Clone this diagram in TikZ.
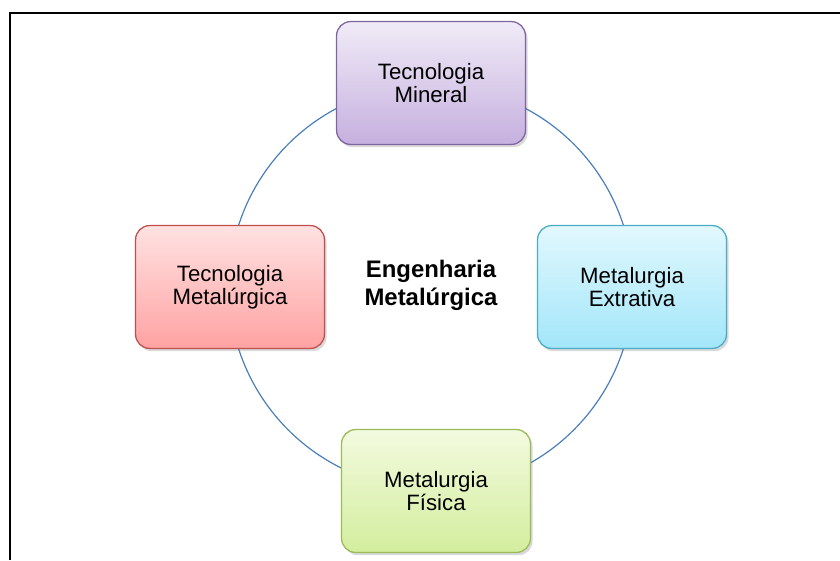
\documentclass[tikz,border=0pt]{standalone}
\usepackage{fontspec}
\setmainfont{Liberation Sans}
\usetikzlibrary{shadows}
\pgfdeclarelayer{bg}
\pgfsetlayers{bg,main}
\definecolor{ringblue}{HTML}{4A7EBB}
\definecolor{minline}{HTML}{8064A2}
\definecolor{mintop}{HTML}{F0EBF7}
\definecolor{minbot}{HTML}{C6B0DF}
\definecolor{extline}{HTML}{4BACC6}
\definecolor{exttop}{HTML}{E2F8FE}
\definecolor{extbot}{HTML}{A2E6F9}
\definecolor{fisline}{HTML}{9BBB59}
\definecolor{fistop}{HTML}{F3FADF}
\definecolor{fisbot}{HTML}{D3EE9E}
\definecolor{metline}{HTML}{C0504D}
\definecolor{mettop}{HTML}{FFE2E2}
\definecolor{metbot}{HTML}{FFA2A2}
\tikzset{
    area/.style={rectangle, rounded corners=10pt, line width=0.9pt,
        minimum width=4.72cm, minimum height=3.07cm, align=center,
        font=\fontsize{15.8}{16.5}\selectfont,
        drop shadow={opacity=0.3, shadow xshift=1.5pt, shadow yshift=-2pt}},
    title/.style={align=center, font=\fontsize{17}{20}\selectfont\bfseries}
}

\begin{document}
\begin{tikzpicture}[x=0.025cm, y=-0.025cm]
    \useasboundingbox (0,0) rectangle (840,560);
    \draw[line width=1pt] (10,560) -- (10,13) -- (840,13);

    \coordinate (c) at (431,287);

    \node (mineral) [area, draw=minline, top color=mintop, bottom color=minbot] at (431,83) {Tecnologia\\Mineral};
    \node (extrativa) [area, draw=extline, top color=exttop, bottom color=extbot] at (632,287) {Metalurgia\\Extrativa};
    \node (fisica) [area, draw=fisline, top color=fistop, bottom color=fisbot] at (436,491) {Metalurgia\\Física};
    \node (tecmet) [area, draw=metline, top color=mettop, bottom color=metbot] at (230,287) {Tecnologia\\Metalúrgica};

    \node (eng) [title] at (431,285) {Engenharia\\Metalúrgica};

    \begin{pgfonlayer}{bg}
        \draw[ringblue, line width=0.85pt] (c) circle (202);
    \end{pgfonlayer}
\end{tikzpicture}
\end{document}
